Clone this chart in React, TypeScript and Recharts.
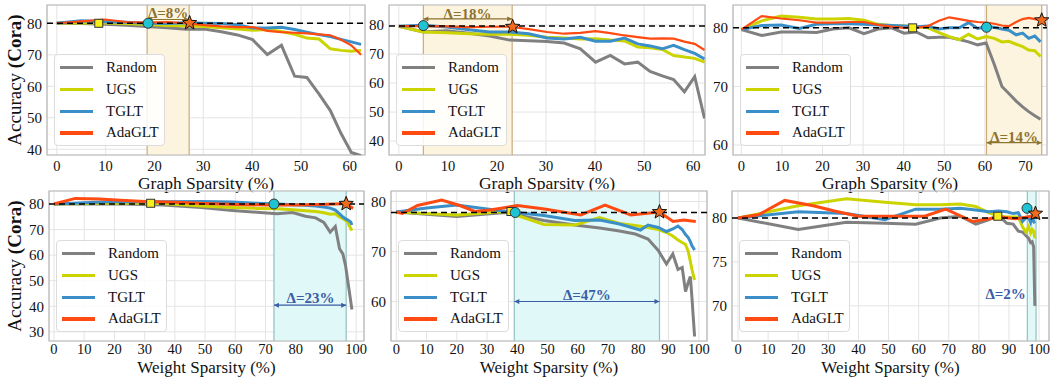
import React from "react";
import {
  CartesianGrid,
  Label,
  Line,
  LineChart,
  ReferenceArea,
  ReferenceDot,
  ReferenceLine,
  XAxis,
  YAxis,
} from "recharts";

const FONT = '"Liberation Serif", "Times New Roman", serif';
const METHODS = ["Random", "UGS", "TGLT", "AdaGLT"];
const COLORS = ["#808080", "#ccd400", "#3a8fc9", "#ff4a12"];

// sparsity levels (graph: 5% per round, weight: 20% per round)
const gsX = [0, 5, 9.8, 14.3, 18.5, 22.6, 26.5, 30.2, 33.7, 37, 40.1, 43.1, 46, 48.7, 51.2, 53.7, 56, 58.2, 60.3, 62.3];
const gsXLong = [...gsX, 64.2, 65.9, 67.7, 69.3, 70.8, 72.3, 73.7];
const wsX = [0, 20, 36, 48.8, 59, 67.2, 73.8, 79, 83.2, 86.6, 89.3, 91.4, 93.1, 94.5, 95.6, 96.5, 97.2, 97.7, 98.2, 98.6];

// panel 1: graph sparsity
const p1Random = [80, 79.9, 79.7, 79.4, 79, 78.6, 78.1, 78.2, 77.3, 76.3, 74.8, 70.1, 73, 63.2, 62.8, 57.5, 52.3, 45, 39, 38];
const p1Ugs = [80, 80.2, 80.1, 79.9, 79.6, 79.3, 79.2, 79, 78.6, 78.2, 77.8, 78, 77.4, 76.5, 75.3, 75, 71.9, 71.4, 71.1, 71.4];
const p1Tglt = [80, 80.8, 80.5, 80.3, 80, 79.9, 80.2, 80, 79.9, 79.5, 78.5, 78.5, 78.7, 78, 77.2, 76.4, 75.8, 74.9, 74.1, 73.3];
const p1Ada = [80, 80.6, 81.2, 80.4, 80.2, 80.4, 80, 79.4, 79, 78.8, 78.8, 77.6, 77.2, 77, 76.8, 76.5, 76.2, 74.8, 73, 70];

// panel 2
const p2Random = [79.6, 77.6, 78, 77.2, 76.2, 74.8, 74.6, 74.3, 73.8, 71.8, 67.2, 69.5, 66.6, 67.2, 64, 62.5, 61.2, 57, 62.2, 47.8];
const p2Ugs = [79.6, 77.6, 77.3, 77, 76.8, 76.8, 76.5, 75.8, 75.5, 75.2, 75.3, 74.8, 74.5, 72.4, 72.2, 71.6, 69.5, 69, 68.5, 67.2];
const p2Tglt = [79.6, 79.9, 79.3, 78.4, 77.6, 77.6, 77, 75.5, 75.2, 75.8, 74.4, 74.4, 75.5, 73.5, 72.8, 71.8, 73, 71.5, 70.2, 68.3];
const p2Ada = [79.6, 79.6, 79.5, 79.3, 79.4, 79.4, 78.6, 77.6, 77, 77.3, 77.9, 77.2, 76.4, 75.8, 75.3, 75.4, 75.3, 74.3, 73.5, 71.4];

// panel 3
const p3Random = [79.7, 78.7, 79.3, 79.3, 79.2, 79.8, 80, 79, 79.8, 80, 79.1, 79.3, 78.3, 78.4, 78.4, 78, 77.6, 77.1, 77.4, 73.8, 70, 68.8, 67.5, 66.5, 65.7, 65, 64.4];
const p3Ugs = [79.7, 81.2, 82, 81.8, 81.5, 81.5, 81.6, 81.3, 80.6, 80.4, 80.3, 80.2, 80, 79.2, 78.5, 78, 78.9, 78.1, 78.5, 78.2, 77.6, 77.7, 77.2, 76.8, 76.2, 76.1, 75.1];
const p3Tglt = [79.7, 80.4, 80.5, 79.9, 80.6, 80.7, 80.7, 80.6, 80.5, 80.4, 80.3, 80.2, 80.3, 79.8, 80, 80, 80.9, 79.9, 80.2, 80.1, 79.8, 79.6, 78.8, 79.1, 78.2, 78.6, 77.6];
const p3Ada = [79.7, 82, 81.6, 81.3, 80.9, 80.9, 81, 81, 80.5, 80.2, 80, 80, 80.3, 81.2, 81.8, 81.5, 81.2, 81, 80.9, 80.7, 80.4, 80.3, 81, 81.5, 81.7, 81.5, 81.3];

// panel 4: weight sparsity
const p4Random = [80, 80.1, 79.6, 78.6, 77.5, 76.8, 76.2, 76.7, 75.2, 74.6, 72.8, 69, 71.2, 62.5, 60.5, 55.9, 50.2, 46.1, 42, 38.7];
const p4Ugs = [80, 80.4, 80.2, 79.2, 78.6, 78.3, 78.2, 77.8, 77.4, 77.1, 76.6, 76, 76.2, 74.9, 74.3, 73.6, 73, 71.5, 70.5, 69.6];
const p4Tglt = [80, 81, 80.9, 81, 80.8, 80.3, 80, 79.7, 79.5, 79.2, 78.8, 78.4, 77.6, 76.2, 74.9, 74.2, 73.8, 73.4, 73, 71.8];
const p4AdaX = [0, 7, 15, 22, 30, 40, 50, 60, 70, 80, 88, 93, 96.7, 98, 99];
const p4Ada = [80, 82.2, 82, 81.5, 81, 80.7, 80.2, 79.8, 79.6, 79.6, 79.8, 80, 80.2, 79, 78.3];

// panel 5
const p5Random = [77.9, 77, 77.8, 76.2, 75.3, 74.7, 74.1, 73.5, 72.5, 70.2, 67.5, 69.5, 66.4, 66.8, 62, 63.8, 65, 61, 56.5, 53];
const p5Ugs = [77.9, 77.3, 78, 75.4, 75.3, 76.8, 75.6, 75.2, 74.8, 74.4, 73.8, 73.1, 72.3, 71.8, 71.4, 70, 68, 66.5, 65.2, 64.3];
const p5TgltX = [0, 10, 20, 30, 39.5, 48.8, 59, 67.2, 73.8, 80.7, 83.2, 86.6, 89.3, 91.4, 93.1, 94.5, 95.6, 96.5, 97.2, 97.7, 98.6];
const p5Tglt = [77.9, 78.7, 79.3, 78.5, 77.8, 77.2, 76.2, 76.3, 75.5, 74.3, 75.3, 74.8, 74, 74.5, 75.1, 74.4, 73.4, 72.8, 72, 71.2, 70.3];
const p5AdaX = [0, 2, 7, 15, 21, 26, 31, 40, 49, 61, 69, 77.5, 87, 91.5, 95, 99];
const p5Ada = [77.9, 77.6, 79.2, 80.3, 79.2, 78, 78.3, 79.2, 78.5, 77.3, 79.3, 77.3, 77.9, 76, 76.3, 76];

// panel 6
const p6Random = [80, 78.7, 79.5, 79.4, 79.3, 80, 80.2, 79.3, 79.8, 80.3, 79.4, 79.3, 78.5, 78.4, 78, 77.7, 77.2, 77.3, 76.7, 70];
const p6Ugs = [80, 81.4, 82.2, 81.8, 81.5, 81.5, 81.6, 81.3, 80.6, 80.2, 80.1, 80.1, 80.1, 79, 78.4, 79, 78.3, 78.7, 78.5, 77.7];
const p6Tglt = [80, 80.7, 80.5, 79.8, 81, 81, 81.1, 80.9, 80.7, 80.8, 80.7, 80.5, 80.6, 79.6, 80, 80.1, 79.5, 80.2, 79.6, 79.4];
const p6AdaX = [0, 7, 15.5, 25, 32, 40, 50, 62, 69, 78, 87, 92, 96, 98.2, 99];
const p6Ada = [80, 80.4, 82, 81.4, 80.8, 80.2, 80.2, 80.2, 81, 79.6, 80.1, 79.9, 80.1, 80.3, 80.5];

// dense baseline, shaded range, markers [x, y], delta labels
const baselines = [80, 79.7, 80, 80, 77.8, 80];
const shades = [[18.5, 27.1], [5, 23.1], [60.4, 74], [72.8, 96.7], [39, 87], [96.1, 99]];
const squares = [[8.6, 80], null, [42.2, 80], [32, 80.3], [37.9, 78], [86.3, 80.2]];
const circles = [[18.7, 80], [5, 79.8], [60.4, 80.1], [72.8, 80], [39.3, 77.8], [96, 81.1]];
const stars = [[27.2, 80.1], [23.2, 79.4], [74, 81.3], [96.7, 80.1], [87, 77.9], [98.8, 80.5]];
const deltaText = ["Δ=8%", "Δ=18%", "Δ=14%", "Δ=23%", "Δ=47%", "Δ=2%"];
const deltaPos = [[22.8, 83.3], [14, 83.8], [67.2, 61.4], [84.9, 43.3], [63, 61.3], [88.9, 71.4]];
const arrowY = [81.2, 82.1, 60.4, 40.4, 60, null];

const pts = (xs: number[], ys: number[]) => xs.map((x, i) => ({ x, y: ys[i] }));

type PanelCfg = {
  plot: { x: number; y: number; w: number; h: number };
  xDomain: [number, number];
  yDomain: [number, number];
  xTicks: number[];
  yTicks: number[];
  xLabel: string;
  series: { x: number; y: number }[][];
  top: boolean;
};

const gTicks = [0, 10, 20, 30, 40, 50, 60];
const wTicks = [0, 10, 20, 30, 40, 50, 60, 70, 80, 90, 100];

const panels: PanelCfg[] = [
  {
    plot: { x: 47, y: 5, w: 318, h: 150 },
    xDomain: [-2, 63.1], yDomain: [38.2, 85.8], xTicks: gTicks, yTicks: [40, 50, 60, 70, 80],
    xLabel: "Graph Sparsity (%)", top: true,
    series: [pts(gsX, p1Random), pts(gsX, p1Ugs), pts(gsX, p1Tglt), pts(gsX, p1Ada)],
  },
  {
    plot: { x: 389, y: 5, w: 316, h: 150 },
    xDomain: [-2, 62.4], yDomain: [35.2, 86.9], xTicks: gTicks, yTicks: [40, 50, 60, 70, 80],
    xLabel: "Graph Sparsity (%)", top: true,
    series: [pts(gsX, p2Random), pts(gsX, p2Ugs), pts(gsX, p2Tglt), pts(gsX, p2Ada)],
  },
  {
    plot: { x: 733, y: 5, w: 314, h: 150 },
    xDomain: [-2.05, 75.3], yDomain: [58.3, 83.9], xTicks: [...gTicks, 70], yTicks: [60, 70, 80],
    xLabel: "Graph Sparsity (%)", top: true,
    series: [pts(gsXLong, p3Random), pts(gsXLong, p3Ugs), pts(gsXLong, p3Tglt), pts(gsXLong, p3Ada)],
  },
  {
    plot: { x: 49, y: 191, w: 315, h: 150 },
    xDomain: [-1.65, 102.6], yDomain: [26.4, 85.1], xTicks: wTicks, yTicks: [30, 40, 50, 60, 70, 80],
    xLabel: "Weight Sparsity (%)", top: false,
    series: [pts(wsX, p4Random), pts(wsX, p4Ugs), pts(wsX, p4Tglt), pts(p4AdaX, p4Ada)],
  },
  {
    plot: { x: 391, y: 191, w: 316, h: 150 },
    xDomain: [-1.75, 102.7], yDomain: [52.1, 82.1], xTicks: wTicks, yTicks: [60, 70, 80],
    xLabel: "Weight Sparsity (%)", top: false,
    series: [pts(wsX, p5Random), pts(wsX, p5Ugs), pts(p5TgltX, p5Tglt), pts(p5AdaX, p5Ada)],
  },
  {
    plot: { x: 732, y: 191, w: 317, h: 150 },
    xDomain: [-2, 103.3], yDomain: [66.0, 83.07], xTicks: wTicks, yTicks: [70, 75, 80],
    xLabel: "Weight Sparsity (%)", top: false,
    series: [pts(wsX, p6Random), pts(wsX, p6Ugs), pts(wsX, p6Tglt), pts(p6AdaX, p6Ada)],
  },
];

const starPoints = (cx: number, cy: number, ro: number, ri: number) => {
  const p: string[] = [];
  for (let i = 0; i < 10; i++) {
    const r = i % 2 === 0 ? ro : ri;
    const a = -Math.PI / 2 + (i * Math.PI) / 5;
    p.push(`${cx + r * Math.cos(a)},${cy + r * Math.sin(a)}`);
  }
  return p.join(" ");
};

const arrowShape = (color: string) => (props: any) => {
  const { x1, y1, x2, y2 } = props;
  return (
    <g>
      <line x1={x1} y1={y1} x2={x2} y2={y2} stroke={color} strokeWidth={1.2} />
      <polygon points={`${x1},${y1} ${x1 + 5},${y1 - 2.5} ${x1 + 5},${y1 + 2.5}`} fill={color} />
      <polygon points={`${x2},${y2} ${x2 - 5},${y2 - 2.5} ${x2 - 5},${y2 + 2.5}`} fill={color} />
    </g>
  );
};

function LegendBox({ left, top }: { left: number; top: number }) {
  return (
    <div
      style={{
        position: "absolute", left, top, width: 111, height: 92,
        background: "rgba(255,255,255,0.85)", border: "1px solid #dcdcdc", borderRadius: 4,
        fontFamily: FONT, fontSize: 15, color: "#111", boxSizing: "border-box",
      }}
    >
      {METHODS.map((m, i) => (
        <div key={m} style={{ position: "absolute", left: 0, top: 3 + i * 21.8, height: 18, width: 111 }}>
          <div style={{ position: "absolute", left: 5, top: 8, width: 33, height: 3.2, background: COLORS[i] }} />
          <span style={{ position: "absolute", left: 51, top: 0, lineHeight: "18px" }}>{m}</span>
        </div>
      ))}
    </div>
  );
}

function Panel({ cfg, idx }: { cfg: PanelCfg; idx: number }) {
  const YW = 45, TOP = 5, RIGHT = 5, XH = 42;
  const { plot, xDomain, yDomain } = cfg;
  const shadeFill = cfg.top ? "#fdf4e0" : "#e0f8f7";
  const shadeEdge = cfg.top ? "#c9ab7c" : "#93c0c0";
  const deltaColor = cfg.top ? "#8b7330" : "#3b5ca6";
  const sq = squares[idx];
  const ci = circles[idx];
  const st = stars[idx];
  const ay = arrowY[idx];
  return (
    <div style={{ position: "absolute", left: plot.x - YW, top: plot.y - TOP }}>
      <LineChart
        width={plot.w + YW + RIGHT}
        height={plot.h + TOP + XH}
        margin={{ top: TOP, right: RIGHT, left: 0, bottom: 0 }}
      >
        <CartesianGrid stroke="#e4e4e4" strokeWidth={1} />
        <XAxis
          type="number" dataKey="x" domain={xDomain} ticks={cfg.xTicks} interval={0}
          allowDataOverflow height={XH} tickLine={false} axisLine={false} tickSize={0}
          tickMargin={cfg.top ? 6 : 3}
          tick={{ fontSize: 14.5, fill: "#111", fontFamily: FONT }}
        >
          <Label
            value={cfg.xLabel} position="insideBottom" offset={cfg.top ? 8 : 10}
            fontSize={cfg.top ? 17.5 : 17} fill="#111" fontFamily={FONT}
          />
        </XAxis>
        <YAxis
          type="number" domain={yDomain} ticks={cfg.yTicks} interval={0}
          allowDataOverflow width={YW} tickLine={false} axisLine={false} tickSize={0} tickMargin={5}
          tick={{ fontSize: 15, fill: "#111", fontFamily: FONT }}
        />
        <ReferenceArea x1={shades[idx][0]} x2={shades[idx][1]} fill={shadeFill} fillOpacity={1} stroke="none" />
        <ReferenceLine x={shades[idx][0]} stroke={shadeEdge} strokeWidth={1.2} />
        <ReferenceLine x={shades[idx][1]} stroke={shadeEdge} strokeWidth={1.2} />
        {cfg.series.map((d, i) => (
          <Line
            key={METHODS[i]} data={d} dataKey="y" type="linear" stroke={COLORS[i]}
            strokeWidth={i === 3 && cfg.top ? 2.2 : 3} dot={false} isAnimationActive={false}
          />
        ))}
        <ReferenceLine y={baselines[idx]} stroke="#000" strokeDasharray="6 4" strokeWidth={1.5} />
        {ay !== null && (
          <ReferenceLine
            segment={[{ x: shades[idx][0], y: ay }, { x: shades[idx][1], y: ay }]}
            stroke={deltaColor}
            shape={arrowShape(deltaColor)}
          />
        )}
        <ReferenceDot
          x={deltaPos[idx][0]} y={deltaPos[idx][1]} r={1}
          shape={(p: any) => (
            <text x={p.cx} y={p.cy} textAnchor="middle" dominantBaseline="central"
              fontFamily={FONT} fontSize={15} fontWeight="bold" fill={deltaColor}>
              {deltaText[idx]}
            </text>
          )}
        />
        {sq && (
          <ReferenceDot
            x={sq[0]} y={sq[1]} r={4}
            shape={(p: any) => (
              <rect x={p.cx - 4} y={p.cy - 4} width={8} height={8} fill="#f7ee1a" stroke="#333" strokeWidth={1} />
            )}
          />
        )}
        <ReferenceDot x={ci[0]} y={ci[1]} r={5} fill="#1ec4d4" stroke="#333" strokeWidth={1} />
        <ReferenceDot
          x={st[0]} y={st[1]} r={7}
          shape={(p: any) => (
            <polygon points={starPoints(p.cx, p.cy, 7.5, 3.2)} fill="#f26a1b" stroke="#111" strokeWidth={1} />
          )}
        />
        <ReferenceArea
          x1={xDomain[0]} x2={xDomain[1]} y1={yDomain[0]} y2={yDomain[1]}
          fill="none" stroke="#b8b8b8" strokeWidth={1.2}
        />
      </LineChart>
      <LegendBox left={YW + 7} top={TOP + 49} />
    </div>
  );
}

function YLabel({ cy }: { cy: number }) {
  return (
    <div
      style={{
        position: "absolute", left: 15, top: cy, transform: "translate(-50%, -50%) rotate(-90deg)",
        whiteSpace: "nowrap", fontFamily: FONT, fontSize: 19, color: "#111",
      }}
    >
      Accuracy <b>(Cora)</b>
    </div>
  );
}

export default function App() {
  return (
    <div style={{ position: "absolute", left: 0, top: 0, width: 1052, height: 377, background: "#fff", overflow: "hidden" }}>
      {panels.map((cfg, i) => (
        <Panel key={i} cfg={cfg} idx={i} />
      ))}
      <YLabel cy={80} />
      <YLabel cy={266} />
    </div>
  );
}
